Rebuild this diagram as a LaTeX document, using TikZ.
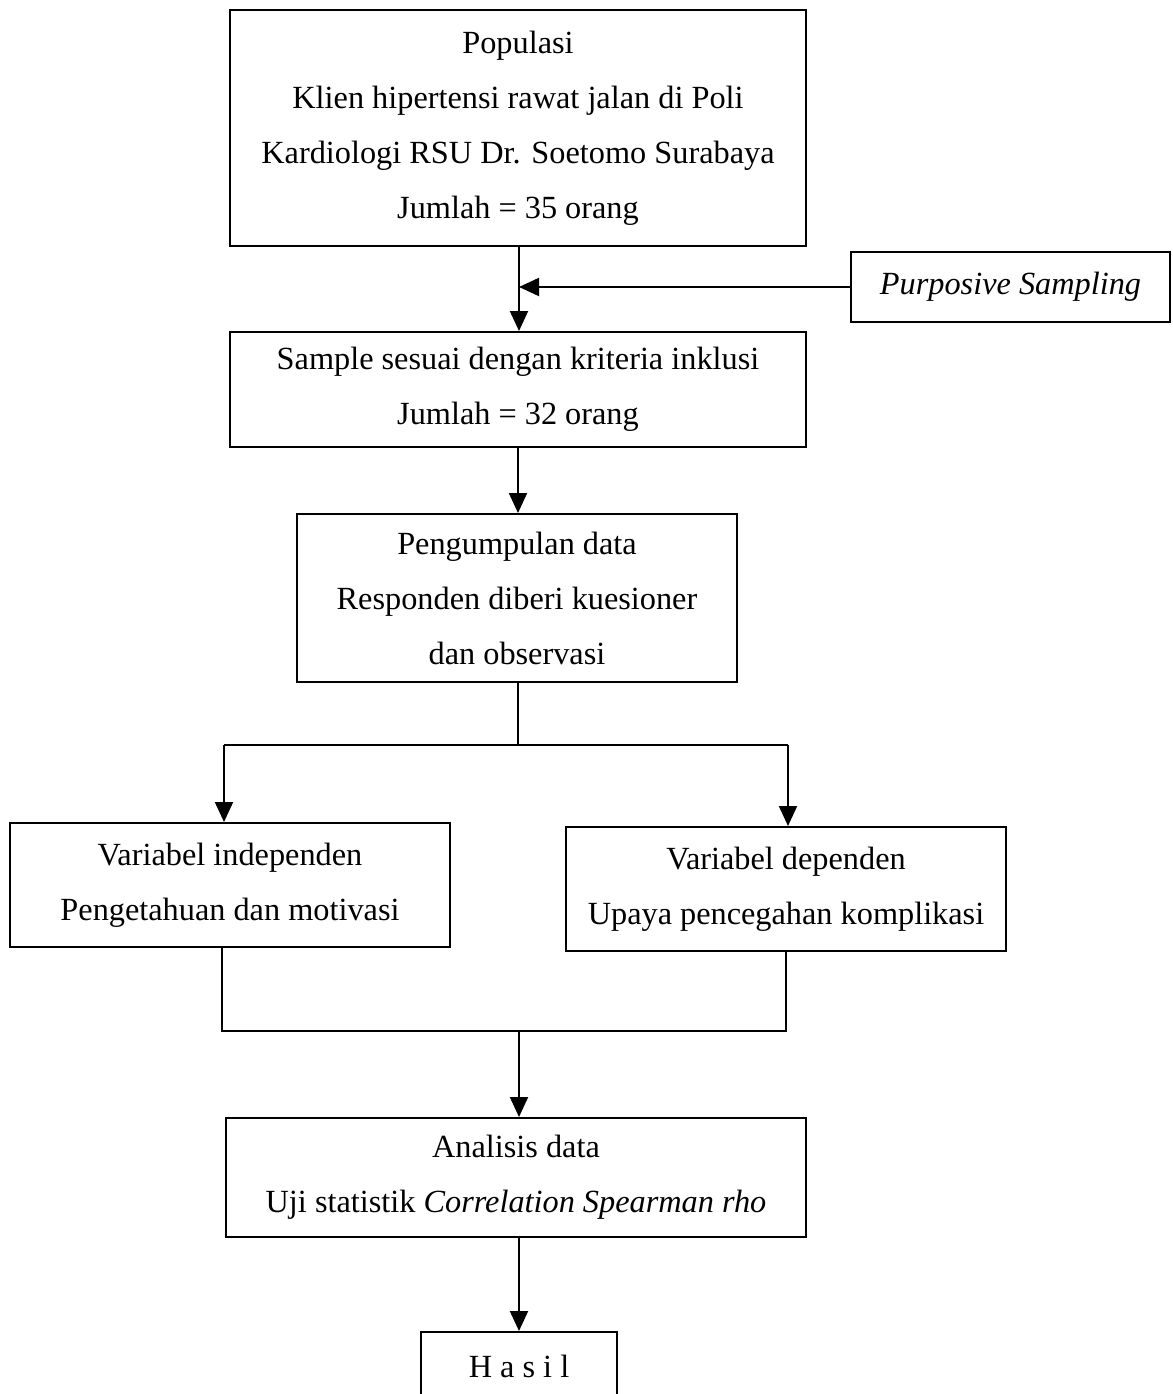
\documentclass[tikz,border=0pt]{standalone}
\usepackage{fontspec}
\setmainfont{Liberation Serif}
\usetikzlibrary{arrows.meta}
\newcommand{\diagfont}{\fontsize{32.3}{55}\selectfont}
\tikzset{
  flowbox/.style={draw, line width=2pt, inner sep=0pt, align=center, font=\diagfont},
  conn/.style={line width=2pt},
  arr/.style={line width=2pt, -{Triangle[length=20pt,width=18pt]}}
}
\begin{document}
\begin{tikzpicture}[x=1pt,y=-1pt]
\useasboundingbox (0,0) rectangle (1172,1394);
\node[flowbox, minimum width=576pt, minimum height=235pt] (pop) at (518,128)
  {Populasi\\Klien hipertensi rawat jalan di Poli\\Kardiologi RSU Dr. Soetomo Surabaya\\Jumlah = 35 orang};
\node[flowbox, minimum width=319pt, minimum height=70pt] (purp) at (1010.5,287)
  {\textit{Purposive Sampling}};
\node[flowbox, minimum width=576pt, minimum height=115pt] (samp) at (518,389.5)
  {Sample sesuai dengan kriteria inklusi\\Jumlah = 32 orang};
\node[flowbox, minimum width=440pt, minimum height=168pt] (peng) at (517,598)
  {Pengumpulan data\\Responden diberi kuesioner\\dan observasi};
\node[flowbox, minimum width=440pt, minimum height=124pt] (indep) at (230,885)
  {Variabel independen\\Pengetahuan dan motivasi};
\node[flowbox, minimum width=440pt, minimum height=124pt] (dep) at (786,889)
  {Variabel dependen\\Upaya pencegahan komplikasi};
\node[flowbox, minimum width=580pt, minimum height=119pt] (anal) at (516,1177.5)
  {Analisis data\\Uji statistik \textit{Correlation Spearman rho}};
\node[flowbox, minimum width=196pt, minimum height=68pt] (hasil) at (519,1366)
  {H a s i l};
% connectors
\coordinate (v1) at (519,0);
\draw[arr] (pop.south -| v1) -- (samp.north -| v1);
\draw[arr] (purp.west) -- (purp.west -| v1);
\draw[arr] (samp.south) -- (samp.south |- peng.north);
\coordinate (bm) at (518,745);
\coordinate (bl) at (224,745);
\coordinate (br) at (788,745);
\draw[conn] (peng.south -| bm) -- (bm);
\draw[conn] (bl) -- (br);
\draw[arr] (bl) -- (bl |- indep.north);
\draw[arr] (br) -- (br |- dep.north);
\coordinate (jl) at (222,1031);
\coordinate (jr) at (786,1031);
\coordinate (jm) at (519,1031);
\draw[conn] (indep.south -| jl) -- (jl) -- (jr) -- (dep.south -| jr);
\draw[arr] (jm) -- (jm |- anal.north);
\draw[arr] (anal.south -| jm) -- (jm |- hasil.north);
\end{tikzpicture}
\end{document}
